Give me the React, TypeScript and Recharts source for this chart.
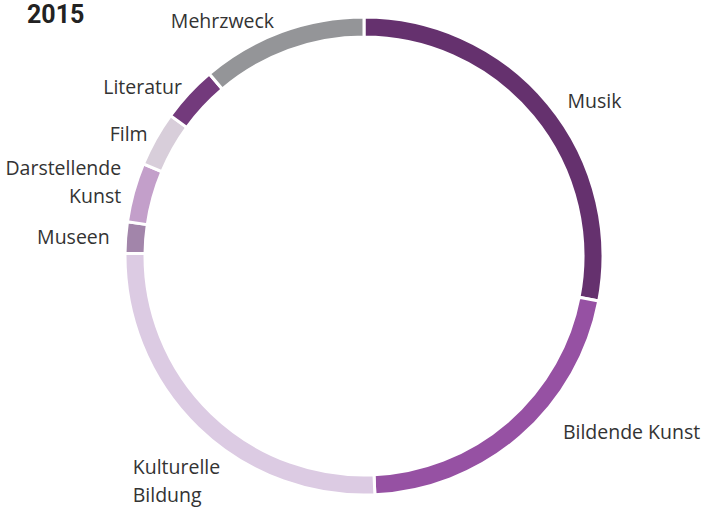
import { PieChart, Pie, Cell } from "recharts";

const categories = [
  "Musik",
  "Bildende Kunst",
  "Kulturelle Bildung",
  "Museen",
  "Darstellende Kunst",
  "Film",
  "Literatur",
  "Mehrzweck",
];
const shares = [28.0, 21.25, 25.9, 2.1, 4.0, 3.7, 3.8, 11.2];
const colors = [
  "#65316e",
  "#9651a3",
  "#dccbe3",
  "#a285aa",
  "#c39fca",
  "#d8ceda",
  "#733a7c",
  "#949598",
];
// labels that Tableau wraps onto two lines
const wrapped = ["Darstellende Kunst", "Kulturelle Bildung"];

const data = categories.map((name, i) => ({ name, value: shares[i] }));

// small hand nudges so labels sit where the original put them
const nudge: Record<string, { dx: number; dy: number; anchor?: string }> = {
  Musik: { dx: 7, dy: 6 },
  Literatur: { dx: 5, dy: 3 },
  Film: { dx: 6, dy: 2 },
  "Darstellende Kunst": { dx: 3, dy: -7 },
  Mehrzweck: { dx: -2, dy: 3 },
  "Bildende Kunst": { dx: 32, dy: -18 },
  "Kulturelle Bildung": { dx: -54, dy: 41, anchor: "start" },
};

const RAD = Math.PI / 180;

const renderLabel = (props: any) => {
  const { cx, cy, midAngle, outerRadius, name } = props;
  const r = outerRadius + 16;
  const n = nudge[name] || { dx: 0, dy: 0 };
  const x = cx + r * Math.cos(-midAngle * RAD) + n.dx;
  const y = cy + r * Math.sin(-midAngle * RAD) + n.dy;
  const anchor = n.anchor || (x > cx ? "start" : "end");
  const lines = wrapped.includes(name) ? name.split(" ") : [name];
  const lh = 28;
  const y0 = y - ((lines.length - 1) * lh) / 2;
  return (
    <text
      key={name}
      x={x}
      y={y0}
      textAnchor={anchor}
      dominantBaseline="central"
      fill="#333"
      fontSize={19.5}
      fontFamily="'Open Sans', sans-serif"
    >
      {lines.map((l: string, i: number) => (
        <tspan key={l} x={x} dy={i === 0 ? 0 : lh}>
          {l}
        </tspan>
      ))}
    </text>
  );
};

export default function App() {
  return (
    <div
      style={{
        position: "absolute",
        left: 0,
        top: 0,
        width: 703,
        height: 509,
        background: "#fff",
      }}
    >
      <div
        style={{
          position: "absolute",
          left: 27,
          top: 0,
          fontFamily: "Roboto, sans-serif",
          fontWeight: 700,
          fontSize: 25,
          color: "#222",
        }}
      >
        2015
      </div>
      <PieChart
        width={703}
        height={509}
        margin={{ top: 0, right: 0, bottom: 0, left: 0 }}
      >
        <Pie
          data={data}
          dataKey="value"
          nameKey="name"
          cx={364}
          cy={256}
          innerRadius={219}
          outerRadius={239}
          startAngle={90}
          endAngle={-270}
          stroke="#fff"
          strokeWidth={3}
          label={renderLabel}
          labelLine={false}
          isAnimationActive={false}
        >
          {data.map((d, i) => (
            <Cell key={d.name} fill={colors[i]} />
          ))}
        </Pie>
      </PieChart>
    </div>
  );
}
